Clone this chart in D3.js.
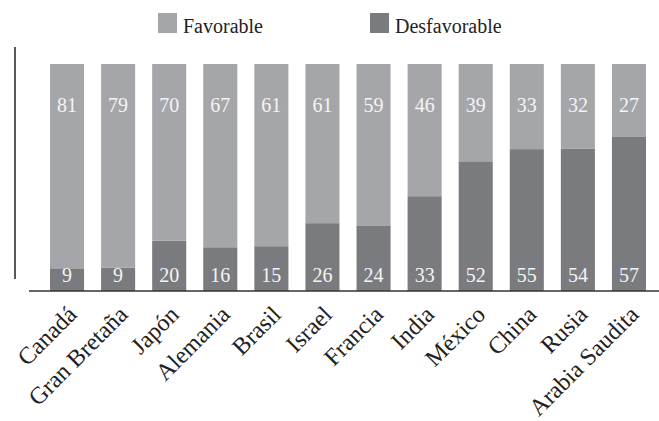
<!DOCTYPE html>
<html>
<head>
<meta charset="utf-8">
<script src="https://cdn.jsdelivr.net/npm/d3@7"></script>
<style>
  body { margin: 0; background: #fff; }
  svg { display: block; font-family: "Liberation Serif", serif; }
</style>
</head>
<body>
<div id="chart"></div>
<script>
const countries = ["Canadá", "Gran Bretaña", "Japón", "Alemania", "Brasil", "Israel",
  "Francia", "India", "México", "China", "Rusia", "Arabia Saudita"];
const favorable = [81, 79, 70, 67, 61, 61, 59, 46, 39, 33, 32, 27];
const desfavorable = [9, 9, 20, 16, 15, 26, 24, 33, 52, 55, 54, 57];
const seriesNames = ["Desfavorable", "Favorable"];

const width = 659, height = 421;
const colors = { Favorable: "#a5a6aa", Desfavorable: "#7a7b7f" };

const rows = countries.map((c, i) => ({ country: c, Favorable: favorable[i], Desfavorable: desfavorable[i] }));

// bars fill the full height: share of favorable vs desfavorable
const stack = d3.stack()
  .keys(seriesNames)
  .offset(d3.stackOffsetExpand);
const series = stack(rows);

const x = d3.scaleBand()
  .domain(countries)
  .range([50, 646])
  .paddingInner(1 / 3)
  .paddingOuter(0);

const y = d3.scaleLinear()
  .domain([0, 1])
  .range([291, 64]);

const svg = d3.select("#chart").append("svg")
    .attr("width", width)
    .attr("height", height);

svg.append("g")
  .selectAll("g")
  .data(series)
  .join("g")
    .attr("fill", d => colors[d.key])
  .selectAll("rect")
  .data(d => d)
  .join("rect")
    .attr("x", d => x(d.data.country))
    .attr("y", d => y(d[1]))
    .attr("width", x.bandwidth())
    .attr("height", d => y(d[0]) - y(d[1]));

// value labels: favorable near the top, desfavorable at the bottom
svg.append("g")
    .attr("fill", "#f4f4f4")
    .attr("font-size", 20)
    .attr("text-anchor", "middle")
  .selectAll("text")
  .data(rows)
  .join("text")
    .attr("x", d => x(d.country) + x.bandwidth() / 2)
    .attr("y", 112)
    .text(d => d.Favorable);

svg.append("g")
    .attr("fill", "#f4f4f4")
    .attr("font-size", 20)
    .attr("text-anchor", "middle")
  .selectAll("text")
  .data(rows)
  .join("text")
    .attr("x", d => x(d.country) + x.bandwidth() / 2)
    .attr("y", 282)
    .text(d => d.Desfavorable);

// axes
svg.append("line")
    .attr("x1", 15).attr("x2", 15)
    .attr("y1", 47).attr("y2", 279)
    .attr("stroke", "#222")
    .attr("stroke-width", 1.5);

const xAxis = svg.append("g")
    .attr("transform", "translate(0,291)")
    .call(d3.axisBottom(x).tickSize(0).tickPadding(0));

xAxis.select(".domain")
    .attr("d", "M29,0H659")
    .attr("stroke", "#333")
    .attr("stroke-width", 1.5);

xAxis.selectAll(".tick text")
    .attr("font-family", "Liberation Serif, serif")
    .attr("font-size", 24)
    .attr("fill", "#222")
    .attr("text-anchor", "end")
    .attr("transform", "translate(11,25) rotate(-45)")
    .attr("y", 0)
    .attr("dy", 0);

// legend
const legend = svg.append("g")
  .selectAll("g")
  .data(["Favorable", "Desfavorable"])
  .join("g")
    .attr("transform", (d, i) => `translate(${i === 0 ? 158 : 370},13)`);

legend.append("rect")
    .attr("width", 19)
    .attr("height", 20)
    .attr("fill", d => colors[d]);

legend.append("text")
    .attr("x", 25)
    .attr("y", 20)
    .attr("font-size", 20)
    .attr("fill", "#222")
    .text(d => d);
</script>
</body>
</html>
